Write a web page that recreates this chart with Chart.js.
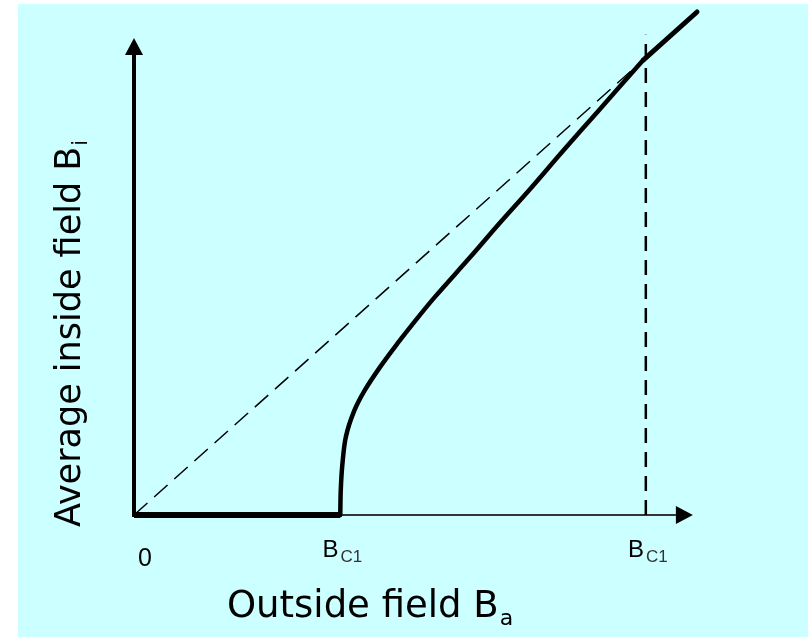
<!DOCTYPE html>
<html>
<head>
<meta charset="utf-8">
<script src="https://cdn.jsdelivr.net/npm/chart.js@4"></script>
<style>
html, body { margin: 0; padding: 0; background: #fff; }
</style>
</head>
<body>
<canvas id="fieldChart" width="808" height="637"></canvas>
<script>
// Tick positions along the outside-field axis (B_C2 taken as 10)
const tickValues = [0, 4.03, 10];
const tickMain = ['0', 'B', 'B'];
const tickSub = ['', 'C1', 'C1'];

// Meissner state: no field inside up to B_C1
const flatX = [0, 4.03];
const flatY = [0, 0];

// Mixed state curve
const curveX = [4.03, 4.04, 4.07, 4.14, 4.30, 4.51, 4.81, 5.14, 5.49, 5.88, 6.57, 7.15, 7.74, 8.38, 9.05, 9.95];
const curveY = [0, 0.55, 1.09, 1.71, 2.27, 2.73, 3.24, 3.74, 4.24, 4.77, 5.64, 6.39, 7.13, 7.96, 8.81, 9.95];

// Normal state above B_C2: B_i follows B_a
const normalX = [9.95, 11];
const normalY = [9.95, 11];

// B_i = B_a reference line and the upper critical field marker
const diagX = [0, 10];
const diagY = [0, 10];
const markX = [10, 10];
const markY = [0, 10.5];

// where the axis arrows end
const arrowTipX = 10.92;
const arrowTipY = 10.43;

function pts(xs, ys) {
    return xs.map((x, i) => ({ x: x, y: ys[i] }));
}

const sketchPlugin = {
    id: 'sketch',
    beforeDraw(chart) {
        const ctx = chart.ctx;
        ctx.save();
        ctx.fillStyle = '#ccffff';
        ctx.fillRect(18, 4, chart.width - 18, chart.height - 4);
        ctx.restore();
    },
    beforeDatasetsDraw(chart) {
        const ctx = chart.ctx;
        const xs = chart.scales.x, ys = chart.scales.y;
        const x0 = xs.getPixelForValue(0), y0 = ys.getPixelForValue(0);
        const tipX = xs.getPixelForValue(arrowTipX);
        const tipY = ys.getPixelForValue(arrowTipY);
        const head = 17, half = 9;
        ctx.save();
        ctx.fillStyle = '#000';
        // horizontal axis
        ctx.strokeStyle = '#333';
        ctx.lineWidth = 2;
        ctx.beginPath();
        ctx.moveTo(x0, y0);
        ctx.lineTo(tipX - head, y0);
        ctx.stroke();
        ctx.beginPath();
        ctx.moveTo(tipX, y0);
        ctx.lineTo(tipX - head, y0 - half);
        ctx.lineTo(tipX - head, y0 + half);
        ctx.closePath();
        ctx.fill();
        // vertical axis
        ctx.strokeStyle = '#000';
        ctx.lineWidth = 4;
        ctx.beginPath();
        ctx.moveTo(x0, y0 + 2);
        ctx.lineTo(x0, tipY + head);
        ctx.stroke();
        ctx.beginPath();
        ctx.moveTo(x0, tipY);
        ctx.lineTo(x0 - half, tipY + head);
        ctx.lineTo(x0 + half, tipY + head);
        ctx.closePath();
        ctx.fill();
        ctx.restore();
    },
    afterDraw(chart) {
        const ctx = chart.ctx;
        const xs = chart.scales.x;
        ctx.save();
        ctx.fillStyle = '#000';
        ctx.textBaseline = 'alphabetic';
        // tick labels
        tickValues.forEach((v, i) => {
            const px = xs.getPixelForValue(v);
            if (!tickSub[i]) {
                ctx.font = '25px "Liberation Sans", Arial, sans-serif';
                ctx.textAlign = 'center';
                ctx.fillText(tickMain[i], px + 11, 566);
                return;
            }
            ctx.textAlign = 'left';
            ctx.font = '24px "Liberation Sans", Arial, sans-serif';
            const wMain = ctx.measureText(tickMain[i]).width;
            ctx.font = '17px "Liberation Sans", Arial, sans-serif';
            const wSub = ctx.measureText(tickSub[i]).width;
            const left = px + 2 - (wMain + 2 + wSub) / 2;
            ctx.font = '24px "Liberation Sans", Arial, sans-serif';
            ctx.fillStyle = '#000';
            ctx.fillText(tickMain[i], left, 557);
            ctx.font = '17px "Liberation Sans", Arial, sans-serif';
            ctx.fillStyle = '#333';
            ctx.fillText(tickSub[i], left + wMain + 2, 562);
            ctx.fillStyle = '#000';
        });
        // x title
        ctx.textAlign = 'left';
        ctx.font = '37px "DejaVu Sans", sans-serif';
        const xt = 'Outside field B';
        ctx.fillText(xt, 227, 617);
        const wx = ctx.measureText(xt).width;
        ctx.font = '22px "DejaVu Sans", sans-serif';
        ctx.fillText('a', 227 + wx + 1, 625);
        // y title
        ctx.translate(80, 527);
        ctx.rotate(-Math.PI / 2);
        ctx.font = '35px "DejaVu Sans", sans-serif';
        const yt = 'Average inside field B';
        ctx.fillText(yt, 0, 0);
        const wy = ctx.measureText(yt).width;
        ctx.font = '21px "DejaVu Sans", sans-serif';
        ctx.fillText('i', wy + 1, 7);
        ctx.restore();
    }
};

new Chart(document.getElementById('fieldChart'), {
    type: 'line',
    data: {
        datasets: [{
            label: 'B_i = B_a',
            data: pts(diagX, diagY),
            borderColor: '#000',
            borderWidth: 1.5,
            borderDash: [18, 9],
            pointRadius: 0,
            clip: false
        }, {
            label: 'B_C2',
            data: pts(markX, markY),
            borderColor: '#000',
            borderWidth: 2.5,
            borderDash: [15, 9],
            pointRadius: 0,
            clip: false
        }, {
            label: 'Meissner',
            data: pts(flatX, flatY),
            borderColor: '#000',
            borderWidth: 6,
            pointRadius: 0,
            clip: false
        }, {
            label: 'Mixed state',
            data: pts(curveX, curveY),
            borderColor: '#000',
            borderWidth: 4.5,
            borderCapStyle: 'round',
            tension: 0.35,
            pointRadius: 0,
            clip: false
        }, {
            label: 'Normal state',
            data: pts(normalX, normalY),
            borderColor: '#000',
            borderWidth: 5,
            borderCapStyle: 'round',
            pointRadius: 0,
            clip: false
        }]
    },
    options: {
        responsive: false,
        animation: false,
        layout: {
            padding: { left: 134, right: 111, top: 12, bottom: 122 }
        },
        scales: {
            x: { type: 'linear', min: 0, max: 11, display: false },
            y: { type: 'linear', min: 0, max: 11, display: false }
        },
        plugins: {
            legend: { display: false },
            tooltip: { enabled: false }
        }
    },
    plugins: [sketchPlugin]
});
</script>
</body>
</html>
